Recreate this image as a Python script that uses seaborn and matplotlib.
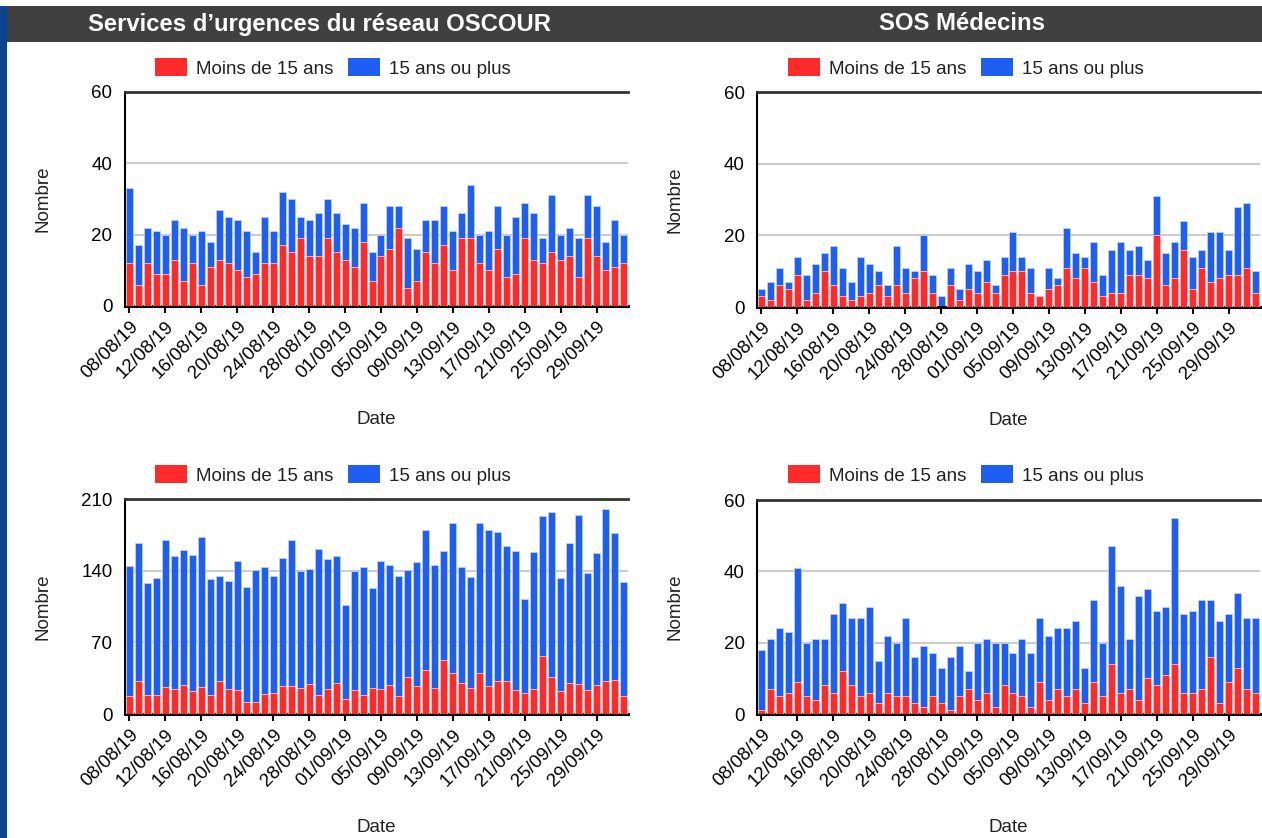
import matplotlib
matplotlib.use('Agg')
import matplotlib.pyplot as plt
import seaborn as sns
import pandas as pd
from matplotlib.patches import Rectangle, Patch

# ---------------- data ----------------
dates = pd.date_range('2019-08-08', periods=56, freq='D').strftime('%d/%m/%y').tolist()
series_labels = ['Moins de 15 ans', '15 ans ou plus']
titles = ['Services d\u2019urgences du réseau OSCOUR', 'SOS Médecins']

# top-left : OSCOUR
oscour_a_moins15 = [12, 6, 12, 9, 9, 13, 7, 12, 6, 11, 13, 12, 10, 8, 9, 12, 12, 17, 15, 19,
                    14, 14, 19, 15, 13, 11, 18, 7, 14, 16, 22, 5, 7, 15, 12, 17, 10, 19, 19, 12,
                    10, 16, 8, 9, 19, 13, 12, 15, 13, 14, 8, 19, 14, 10, 11, 12]
oscour_a_plus15 = [21, 11, 10, 12, 11, 11, 15, 8, 15, 7, 14, 13, 14, 13, 6, 13, 9, 15, 15, 6,
                   10, 12, 11, 11, 10, 11, 11, 8, 6, 12, 6, 14, 9, 9, 12, 11, 11, 7, 15, 8,
                   11, 12, 12, 16, 10, 13, 7, 16, 7, 8, 11, 12, 14, 8, 13, 8]
# top-right : SOS Médecins
sos_a_moins15 = [3, 2, 6, 5, 9, 2, 4, 10, 6, 3, 2, 3, 4, 6, 3, 6, 4, 8, 10, 4,
                 0, 6, 2, 5, 4, 7, 4, 9, 10, 10, 4, 3, 5, 6, 11, 8, 11, 7, 3, 4,
                 4, 9, 9, 8, 20, 6, 8, 16, 5, 11, 7, 8, 9, 9, 11, 4]
sos_a_plus15 = [2, 5, 5, 2, 5, 7, 8, 5, 11, 8, 5, 11, 8, 4, 3, 11, 7, 2, 10, 5,
                3, 5, 3, 7, 6, 6, 2, 5, 11, 4, 7, 0, 6, 2, 11, 7, 3, 11, 6, 12,
                14, 7, 8, 5, 11, 9, 10, 8, 9, 5, 14, 13, 7, 19, 18, 6]
# bottom-left : OSCOUR
oscour_b_moins15 = [18, 32, 19, 19, 26, 24, 28, 22, 26, 19, 32, 24, 23, 12, 12, 20, 21, 27, 27, 25,
                    29, 19, 24, 30, 15, 23, 19, 25, 24, 28, 18, 36, 27, 43, 25, 53, 40, 30, 25, 40,
                    27, 32, 32, 23, 21, 24, 57, 36, 22, 30, 29, 23, 28, 32, 33, 18]
oscour_b_plus15 = [127, 135, 109, 114, 144, 130, 132, 133, 147, 113, 103, 106, 126, 112, 129, 124, 114, 125, 143, 115,
                   113, 142, 127, 124, 91, 117, 125, 98, 125, 118, 117, 105, 121, 137, 121, 106, 147, 114, 109, 147,
                   153, 146, 132, 136, 91, 134, 136, 161, 111, 137, 165, 115, 129, 168, 144, 111]
# bottom-right : SOS Médecins
sos_b_moins15 = [1, 7, 5, 6, 9, 5, 4, 8, 6, 12, 8, 5, 6, 3, 6, 5, 5, 3, 2, 5,
                 3, 1, 5, 7, 4, 6, 2, 8, 6, 5, 2, 9, 4, 7, 5, 7, 3, 9, 5, 14,
                 6, 7, 4, 10, 8, 11, 14, 6, 6, 7, 16, 3, 9, 13, 7, 6]
sos_b_plus15 = [17, 14, 19, 17, 32, 15, 17, 13, 22, 19, 19, 22, 24, 12, 16, 15, 22, 13, 17, 12,
                10, 15, 14, 5, 16, 15, 18, 12, 11, 16, 15, 18, 18, 17, 19, 19, 10, 23, 15, 33,
                30, 14, 29, 25, 21, 19, 41, 22, 23, 25, 16, 23, 19, 21, 20, 21]

yticks_small = [0, 20, 40, 60]
yticks_big = [0, 70, 140, 210]

# ---------------- style ----------------
RED = '#FF2B2B'
BLUE = '#1F5EF2'
sns.set_theme(style='white')
plt.rcParams['font.family'] = ['Liberation Sans', 'DejaVu Sans']

W, H = 1262, 838
fig = plt.figure(figsize=(W / 100, H / 100), dpi=100)

# header band and left stripe
fig.patches.append(Rectangle((7 / W, 1 - 42 / H), 1 - 7 / W, 36 / H, transform=fig.transFigure,
                             facecolor='#404040', edgecolor='none', zorder=0))
fig.patches.append(Rectangle((0, 0), 7 / W, 1 - 6 / H, transform=fig.transFigure,
                             facecolor='#0B4494', edgecolor='none', zorder=0))
fig.text(320 / W, 1 - 24 / H, titles[0], color='white', fontsize=17.2, fontweight='bold',
         ha='center', va='center')
fig.text(962 / W, 1 - 24 / H, titles[1], color='white', fontsize=17.2, fontweight='bold',
         ha='center', va='center')


def rect(l, t, r, b):
    return [l / W, 1 - b / H, (r - l) / W, (b - t) / H]


panels = [
    (rect(125, 92, 628, 306), oscour_a_moins15, oscour_a_plus15, yticks_small, (333, 68)),
    (rect(757, 92, 1260, 307), sos_a_moins15, sos_a_plus15, yticks_small, (966, 68)),
    (rect(125, 499, 628, 714), oscour_b_moins15, oscour_b_plus15, yticks_big, (333, 475)),
    (rect(757, 500, 1260, 714), sos_b_moins15, sos_b_plus15, yticks_small, (966, 475)),
]

FS = 13.5
for r, moins, plus, yt, (lx, ly) in panels:
    ax = fig.add_axes(r)
    df = pd.DataFrame({'Date': dates, 'moins': moins, 'plus': plus})
    df['total'] = df['moins'] + df['plus']
    sns.barplot(data=df, x='Date', y='total', color=BLUE, saturation=1, width=0.78,
                edgecolor='#BFD0FA', linewidth=0.6, ax=ax, zorder=2)
    sns.barplot(data=df, x='Date', y='moins', color=RED, saturation=1, width=0.78,
                edgecolor='#FFC0C0', linewidth=0.6, ax=ax, zorder=3)
    ax.set_xlim(-0.5, len(dates) - 0.5)
    ax.set_ylim(yt[0], yt[-1])
    ax.set_yticks(yt)
    ax.set_yticklabels([str(v) for v in yt], fontsize=FS, color='black')
    ax.set_xticks(range(0, len(dates), 4))
    ax.set_xticklabels(dates[::4], rotation=45, ha='right', va='top',
                       rotation_mode='anchor', fontsize=FS, color='black')
    ax.tick_params(axis='x', length=5, width=1.5, color='black', direction='out', pad=4, bottom=True)
    ax.tick_params(axis='y', length=0, pad=9)
    ax.grid(axis='y', color='#CCCCCC', linewidth=1.5)
    ax.grid(axis='x', visible=False)
    ax.set_axisbelow(True)
    for s in ['left', 'bottom']:
        ax.spines[s].set_color('black')
    ax.spines['left'].set_linewidth(1.5)
    ax.spines['bottom'].set_linewidth(2.2)
    ax.spines['top'].set_color('#333333')
    ax.spines['top'].set_linewidth(2)
    ax.spines['right'].set_visible(False)
    ax.set_ylabel('Nombre', fontsize=FS, color='#222222')
    ax.set_xlabel('Date', fontsize=FS, color='#222222')
    ax.yaxis.set_label_coords(-0.146, 0.5)
    ax.xaxis.set_label_coords(0.5, -0.49)
    handles = [Patch(facecolor=RED, edgecolor='none'), Patch(facecolor=BLUE, edgecolor='none')]
    fig.legend(handles, series_labels, loc='center', bbox_to_anchor=(lx / W, 1 - ly / H),
               ncol=2, frameon=False, fontsize=FS, handlelength=1.7, handleheight=1.05,
               handletextpad=0.5, columnspacing=0.75, borderpad=0, labelcolor='#222222')

fig.savefig('out.png', dpi=100, facecolor='white')
